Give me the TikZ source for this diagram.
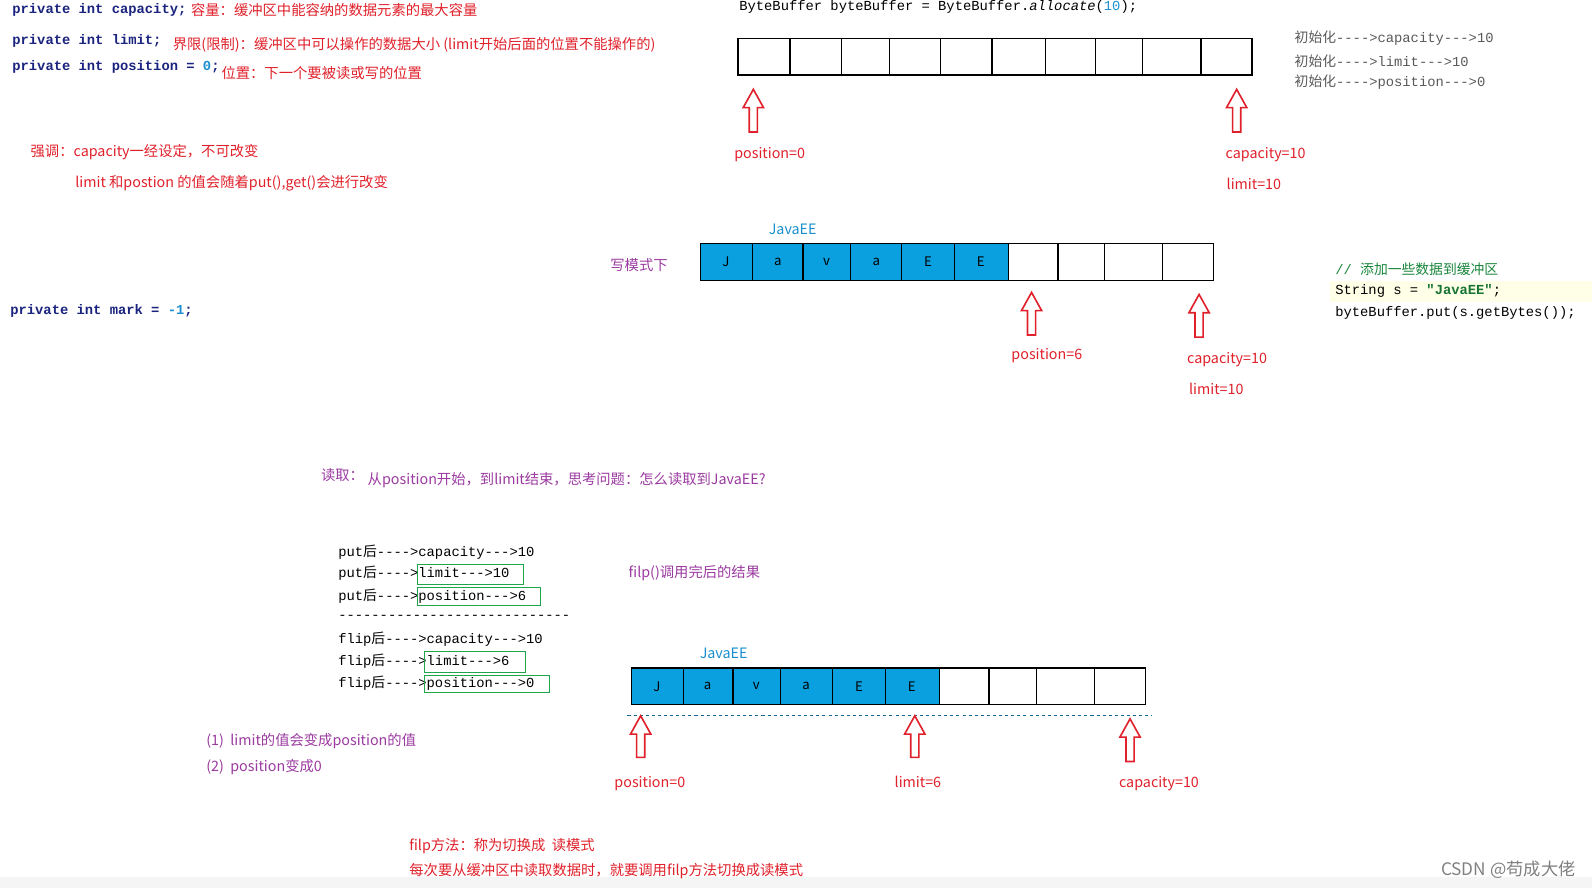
\documentclass[tikz,border=0pt]{standalone}
\usepackage{fontspec}
\setmainfont{Noto Sans CJK SC}
\setmonofont{Liberation Mono}
\newfontfamily\cjk{Noto Sans CJK SC}
\definecolor{rd}{HTML}{E0202A}
\definecolor{pu}{HTML}{9B3AA0}
\definecolor{bl}{HTML}{0AA0E0}
\definecolor{bt}{HTML}{1A8FD0}
\definecolor{nv}{HTML}{1A237E}
\definecolor{gr}{HTML}{1FA64A}
\newcommand\myarr[3]{\draw[rd,line width=1.6pt,line join=miter] (#1-4,#3)--(#1+4,#3)--(#1+4,#2+18)--(#1+10,#2+18)--(#1,#2)--(#1-10,#2+18)--(#1-4,#2+18)--cycle;}
\newcommand\cells[5]{\foreach \a/\b [count=\i] in {#5}{\ifnum\i<#4\fill[bl](\a,#2) rectangle (\b,#3);\fi\draw[line width=1.3pt](\a,#2) rectangle (\b,#3);}}
\begin{document}
\begin{tikzpicture}[x=1pt,y=-1pt,
 t/.style={anchor=west,inner sep=0pt,font=\fontsize{14.1}{16}\selectfont},
 m/.style={anchor=west,inner sep=0pt,font=\ttfamily\fontsize{13.6}{15}\selectfont},
 c/.style={m,text=nv,font=\ttfamily\bfseries\fontsize{13.6}{15}\selectfont}]
\useasboundingbox (0,0) rectangle (1568,875);
\fill[gray!8] (0,864) rectangle (1568,875);
% top-left
\node[c] (c1) at (12,10) {private int capacity;};
\node[t,rd] (r1) at (188,10) {容量：缓冲区中能容纳的数据元素的最大容量};
\node[c] (c2) at (12,40) {private int limit;};
\node[t,rd] (r2) at (170,44) {界限(限制)：缓冲区中可以操作的数据大小 (limit开始后面的位置不能操作的)};
\node[c] (c3) at (12,66) {private int position = \textcolor{bt}{0};};
\node[t,rd] (r3) at (218,72) {位置：下一个要被读或写的位置};
\node[t,rd] (r4) at (30,150) {强调：capacity一经设定，不可改变};
\node[t,rd] (r5) at (74,180) {limit 和postion 的值会随着put(),get()会进行改变};
\node[c] (c4) at (10,306) {private int mark = \textcolor{bt}{-1};};
% top array
\node[m] (h1) at (728,7) {ByteBuffer byteBuffer = ByteBuffer.\textit{allocate}(\textcolor{bt}{10});};
\cells{0}{38}{74}{0}{727/778,778/829,829/876,876/926,926/977,977/1030,1030/1079,1079/1125,1125/1183,1183/1233}
\myarr{742}{88}{130}\myarr{1218}{88}{130}
\node[t,rd] (l1) at (723,152) {position=0};
\node[t,rd] (l2) at (1207,152) {capacity=10};
\node[t,rd] (l3) at (1208,181) {limit=10};
\node[m,gray!70!black] (i1) at (1275,38) {{\cjk 初始化}---->capacity--->10};
\node[m,gray!70!black] (i2) at (1275,60) {{\cjk 初始化}---->limit--->10};
\node[m,gray!70!black] (i3) at (1275,81) {{\cjk 初始化}---->position--->0};
% middle array
\node[t,bt] (j1) at (757,226) {JavaEE};
\node[t,pu] (w1) at (601,261) {写模式下};
\cells{0}{240}{276}{7}{690/741,741/791,791/838,838/888,888/940,940/993,993/1042,1042/1088,1088/1145,1145/1195}
\foreach \x/\s [count=\k] in {715/J,766/a,814/v,863/a,914/E,966/E}\node[font=\fontsize{13}{15}\selectfont] (mj\k) at (\x,258) {\s};
\myarr{1016}{288}{330}\myarr{1181}{290}{332}
\node[t,rd] (l4) at (996,350) {position=6};
\node[t,rd] (l5) at (1169,354) {capacity=10};
\node[t,rd] (l6) at (1171,383) {limit=10};
\fill[yellow!10] (1310,277) rectangle (1568,297);
\node[m,gr!80!black] (s1) at (1315,265) {// {\cjk 添加一些数据到缓冲区}};
\node[m] (s2) at (1315,287) {String s = \textbf{\textcolor{gr!70!black}{"JavaEE"}};};
\node[m] (s3) at (1315,308) {byteBuffer.put(s.getBytes());};
% read
\node[t,pu] (rd1) at (316,468) {读取：};
\node[t,pu] (rd2) at (362,473) {从position开始，到limit结束，思考问题：怎么读取到JavaEE?};
\foreach \y/\s [count=\k] in {544/{put{\cjk 后}---->capacity--->10},565/{put{\cjk 后}---->limit--->10},587/{put{\cjk 后}---->position--->6},608/{----------------------------},630/{flip{\cjk 后}---->capacity--->10},651/{flip{\cjk 后}---->limit--->6},673/{flip{\cjk 后}---->position--->0}}
 \node[m] (p\k) at (333,\y) {\s};
\draw[gr,line width=1pt] (411,556) rectangle (516,576);
\draw[gr,line width=1pt] (411,579) rectangle (532,596);
\draw[gr,line width=1pt] (418,642) rectangle (518,662);
\draw[gr,line width=1pt] (418,665) rectangle (541,682);
\node[t,pu] (f1) at (619,564) {filp()调用完后的结果};
% bottom array
\node[t,bt] (j2) at (689,643) {JavaEE};
\cells{0}{658}{694}{7}{622/673,673/722,722/769,769/820,820/872,872/925,925/974,974/1021,1021/1078,1078/1128}
\foreach \x/\s [count=\k] in {647/J,697/a,745/v,794/a,846/E,898/E}\node[font=\fontsize{13}{15}\selectfont] (bj\k) at (\x,676) {\s};
\draw[bt!70!black,dashed] (618,704) -- (1135,704);
\myarr{631}{705}{746}\myarr{901}{705}{746}\myarr{1113}{708}{750}
\node[t,rd] (l7) at (605,772) {position=0};
\node[t,rd] (l8) at (881,770) {limit=6};
\node[t,rd] (l9) at (1102,772) {capacity=10};
\node[t,pu] (n1) at (203,730) {(1)\ \ limit的值会变成position的值};
\node[t,pu] (n2) at (203,755) {(2)\ \ position变成0};
\node[t,rd] (b1) at (403,833) {filp方法：称为切换成\ \ 读模式};
\node[t,rd] (b2) at (403,858) {每次要从缓冲区中读取数据时，就要调用filp方法切换成读模式};
\node[anchor=east,inner sep=0pt,gray,font=\fontsize{17}{19}\selectfont] (w) at (1552,857) {CSDN @苟成大佬};
\end{tikzpicture}
\end{document}
